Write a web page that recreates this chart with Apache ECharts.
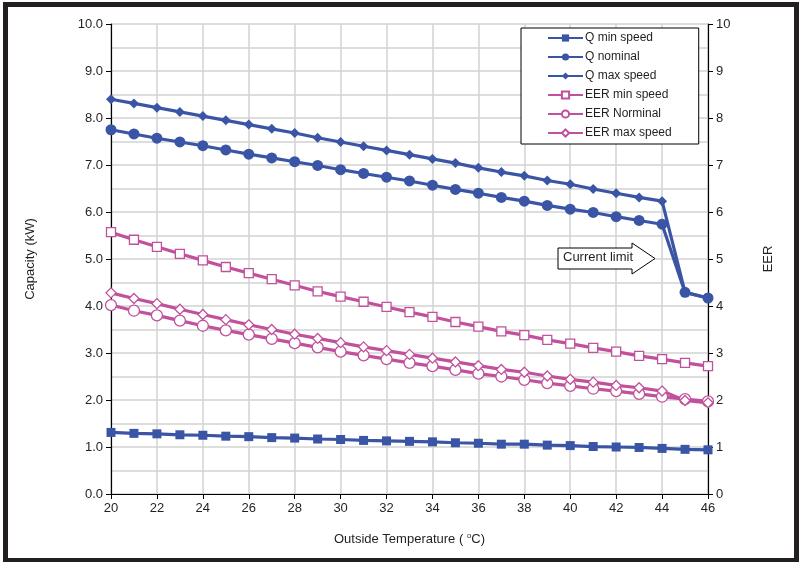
<!DOCTYPE html>
<html>
<head>
<meta charset="utf-8">
<script src="https://cdn.jsdelivr.net/npm/echarts@6/dist/echarts.min.js"></script>
<style>
html,body{margin:0;padding:0;background:#fff;}
#chart{width:800px;height:562px;}
</style>
</head>
<body>
<div id="chart"></div>
<script>
var temps = [20,21,22,23,24,25,26,27,28,29,30,31,32,33,34,35,36,37,38,39,40,41,42,43,44,45,46];
var qMin = [1.31,1.29,1.28,1.26,1.25,1.23,1.22,1.20,1.19,1.17,1.16,1.14,1.13,1.12,1.11,1.09,1.08,1.06,1.06,1.04,1.03,1.01,1.00,0.99,0.97,0.95,0.94];
var qNominal = [7.75,7.66,7.57,7.49,7.41,7.32,7.23,7.15,7.07,6.99,6.90,6.82,6.74,6.66,6.57,6.48,6.40,6.31,6.23,6.14,6.06,5.99,5.90,5.82,5.74,4.29,4.17];
var qMax = [8.40,8.31,8.22,8.13,8.04,7.95,7.86,7.77,7.68,7.58,7.49,7.40,7.31,7.22,7.13,7.04,6.94,6.85,6.77,6.67,6.59,6.49,6.40,6.31,6.23,4.29,4.17];
var eerMin = [5.57,5.41,5.26,5.11,4.97,4.83,4.70,4.57,4.44,4.31,4.20,4.09,3.98,3.87,3.77,3.66,3.56,3.46,3.38,3.28,3.20,3.11,3.03,2.94,2.87,2.79,2.72];
var eerNominal = [4.02,3.90,3.80,3.69,3.58,3.48,3.39,3.30,3.21,3.12,3.03,2.95,2.87,2.79,2.72,2.64,2.56,2.50,2.43,2.36,2.30,2.24,2.19,2.13,2.07,2.02,1.97];
var eerMax = [4.28,4.16,4.05,3.93,3.82,3.71,3.60,3.50,3.40,3.31,3.22,3.13,3.05,2.97,2.89,2.81,2.73,2.65,2.59,2.51,2.44,2.38,2.31,2.26,2.19,1.99,1.94];
var leftTicks = [0,1,2,3,4,5,6,7,8,9,10];
var xTicks = [20,22,24,26,28,30,32,34,36,38,40,42,44,46];

var BLUE = '#3A55A5';
var PINK = '#C1519C';
var FONT = 'Liberation Sans, Arial, sans-serif';
var TXT = '#231F20';

function pairs(ys){ return temps.map(function(t,i){ return [t, ys[i]]; }); }

function mk(name, data, color, symbol, size, hollow, yIndex){
  return {
    name: name, type: 'line', yAxisIndex: yIndex, data: pairs(data),
    symbol: symbol, symbolSize: size, showSymbol: true,
    lineStyle: {color: color, width: 3.2},
    itemStyle: {color: hollow ? '#ffffff' : color, borderColor: color, borderWidth: hollow ? 1.3 : 0},
    emphasis: {disabled: true}, animation: false, z: hollow ? 3 : 4
  };
}

var chart = echarts.init(document.getElementById('chart'), null, {renderer: 'canvas'});
chart.setOption({
  animation: false,
  backgroundColor: '#ffffff',
  textStyle: {fontFamily: FONT, color: TXT},
  grid: {left: 111, right: 92, top: 24, bottom: 68, containLabel: false},
  legend: {
    orient: 'vertical', left: 521, top: 28,
    padding: [3, 27, 4, 26], itemGap: 5, itemWidth: 35, itemHeight: 9,
    backgroundColor: '#ffffff', borderColor: '#000000', borderWidth: 1,
    textStyle: {fontFamily: FONT, fontSize: 12, color: TXT, padding: [0,0,0,-3], lineHeight: 14},
    data: ['Q min speed','Q nominal','Q max speed','EER min speed','EER Norminal','EER max speed']
  },
  xAxis: {
    type: 'value', min: 20, max: 46, interval: 2,
    name: 'Outside Temperature ( {sup|o}C)', nameLocation: 'middle', nameGap: 38,
    nameTextStyle: {fontFamily: FONT, fontSize: 13, color: TXT,
      rich: {sup: {fontSize: 8, verticalAlign: 'top', padding: [0,0,6,0], fontFamily: FONT, color: TXT}}},
    axisLine: {show: true, onZero: false, lineStyle: {color: '#000', width: 1.2}},
    axisTick: {show: true, inside: false, length: 5, lineStyle: {color: '#000'}},
    axisLabel: {fontFamily: FONT, fontSize: 13, color: TXT, margin: 8},
    splitLine: {show: true, lineStyle: {color: '#d2d2d2', width: 1.5}}
  },
  yAxis: [
    {
      type: 'value', min: 0, max: 10, interval: 1, position: 'left',
      name: 'Capacity (kW)', nameLocation: 'middle', nameGap: 74, nameRotate: 90,
      nameTextStyle: {fontFamily: FONT, fontSize: 13, color: TXT},
      axisLine: {show: true, lineStyle: {color: '#000', width: 1.2}},
      axisTick: {show: true, inside: false, length: 5, lineStyle: {color: '#000'}},
      axisLabel: {fontFamily: FONT, fontSize: 13, color: TXT, margin: 8,
        formatter: function(v){ return v.toFixed(1); }},
      splitLine: {show: true, lineStyle: {color: '#d2d2d2', width: 1.5}},
      minorTick: {show: false, splitNumber: 2},
      minorSplitLine: {show: true, lineStyle: {color: '#d2d2d2', width: 1.5}}
    },
    {
      type: 'value', min: 0, max: 10, interval: 1, position: 'right',
      name: 'EER', nameLocation: 'middle', nameGap: 54, nameRotate: 90,
      nameTextStyle: {fontFamily: FONT, fontSize: 13, color: TXT},
      axisLine: {show: true, lineStyle: {color: '#000', width: 1.2}},
      axisTick: {show: true, inside: false, length: 5, lineStyle: {color: '#000'}},
      axisLabel: {fontFamily: FONT, fontSize: 13, color: TXT, margin: 8},
      splitLine: {show: false}
    }
  ],
  series: [
    mk('EER min speed', eerMin, PINK, 'rect', 9, true, 1),
    mk('EER Norminal', eerNominal, PINK, 'circle', 11, true, 1),
    mk('EER max speed', eerMax, PINK, 'diamond', 10, true, 1),
    mk('Q min speed', qMin, BLUE, 'rect', 9, false, 0),
    mk('Q nominal', qNominal, BLUE, 'circle', 11, false, 0),
    mk('Q max speed', qMax, BLUE, 'diamond', 10, false, 0)
  ],
  graphic: [
    {type: 'rect', left: 3, top: 2, z: 100, silent: true,
     shape: {x: 0, y: 0, width: 791, height: 556},
     style: {fill: 'none', stroke: '#231F20', lineWidth: 5}},
    {type: 'polygon', z: 50, silent: true,
     shape: {points: [[558,248],[632,248],[632,243],[655,258.5],[632,274],[632,269],[558,269]]},
     style: {fill: '#ffffff', stroke: '#000000', lineWidth: 1}},
    {type: 'text', z: 51, silent: true, left: 563, top: 251,
     style: {text: 'Current limit', font: '13px ' + FONT, fill: TXT}}
  ]
});
</script>
</body>
</html>
